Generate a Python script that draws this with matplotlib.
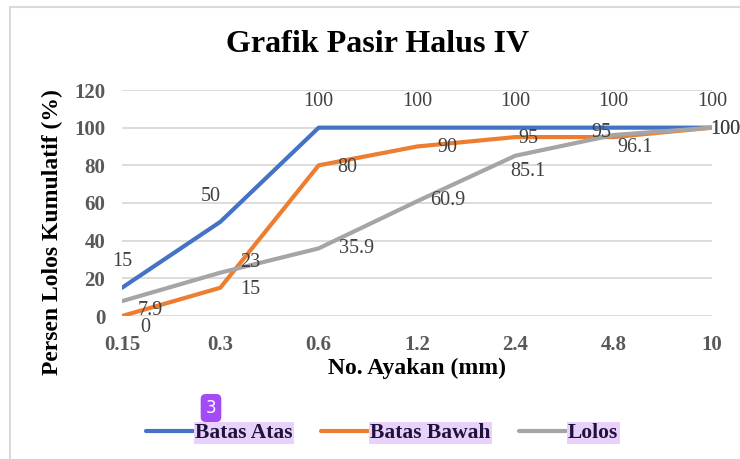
import matplotlib
matplotlib.use("Agg")
import matplotlib.pyplot as plt
from matplotlib.patches import Rectangle

# Data
ayakan = ["0.15", "0.3", "0.6", "1.2", "2.4", "4.8", "10"]
batas_atas = [15, 50, 100, 100, 100, 100, 100]
batas_bawah = [0, 15, 80, 90, 95, 95, 100]
lolos = [7.9, 23, 35.9, 60.9, 85.1, 96.1, 100]

# Label offsets in pixels (dx, dy), screen coords (dy up)
off_atas = [(0, 26), (-10, 25), (0, 26), (0, 26), (0, 26), (0, 26), (0, 26)]
off_bawah = [(23, -11), (30, -2), (29, -2), (30, -1), (13, -1), (-12, 5), (13, -2)]
off_lolos = [(28, -9), (30, 10), (38, 0), (31, 1), (13, -16), (21, -12), (13, -2)]

plt.rcParams['font.family'] = ['Liberation Serif', 'DejaVu Serif']

fig = plt.figure(figsize=(7.4, 4.59), dpi=100)
ax = fig.add_axes([122 / 740, 1 - 316 / 459, 590 / 740, 226 / 459])

x = list(range(len(ayakan)))
series = [
    ("Batas Atas", batas_atas, "#4472C4", off_atas),
    ("Batas Bawah", batas_bawah, "#ED7D31", off_bawah),
    ("Lolos", lolos, "#A5A5A5", off_lolos),
]
handles = []
for name, vals, col, offs in series:
    h, = ax.plot(x, vals, color=col, lw=3, solid_capstyle='round', label=name, zorder=3)
    handles.append(h)
    for xi, v, (dx, dy) in zip(x, vals, offs):
        lab = ("%g" % v)
        ax.annotate(lab, (xi, v), xytext=(dx * 0.72, dy * 0.72), textcoords='offset points',
                    ha='center', va='center', fontsize=14.5, color='#404040',
                    annotation_clip=False, zorder=4)

ax.set_xlim(0, 6)
ax.set_ylim(0, 120)
ax.set_yticks(range(0, 121, 20))
ax.set_xticks(x)
ax.set_xticklabels(ayakan)
ax.grid(axis='y', color='#d9d9d9', lw=1.3)
ax.set_axisbelow(True)
for s in ax.spines.values():
    s.set_visible(False)
ax.tick_params(length=0, labelsize=15, colors='#595959', pad=12)
for t in ax.get_xticklabels() + ax.get_yticklabels():
    t.set_fontweight('bold')
ax.tick_params(axis='x', pad=14)

ax.set_xlabel("No. Ayakan (mm)", fontsize=17, fontweight='bold', va='center')
ax.set_ylabel("Persen Lolos Kumulatif (%)", fontsize=17, fontweight='bold', va='center')
ax.xaxis.set_label_coords((417 - 122) / 590, -(368 - 316) / 226)
ax.yaxis.set_label_coords(-(122 - 52) / 590, (316 - 232) / 226)

fig.text(0.51, 1 - 45 / 459, "Grafik Pasir Halus IV", ha='center', va='center',
         fontsize=23, fontweight='bold')

# chart border
fig.add_artist(Rectangle((10 / 740, -0.1), 1.2, 1 - 7 / 459 + 0.1, transform=fig.transFigure,
                         fill=False, edgecolor='#d9d9d9', lw=1.5))

leg = fig.legend(handles=handles, loc='center', bbox_to_anchor=(382 / 740, 1 - 433 / 459),
                 ncol=3, frameon=False, handlelength=2.2, handletextpad=0.1,
                 columnspacing=1.3, prop={'weight': 'bold', 'size': 15.5})
for t in leg.get_texts():
    t.set_color('#20123a')
    t.set_bbox(dict(facecolor='#e8d2fb', edgecolor='none', pad=1))

fig.text(211 / 740, 1 - 408 / 459, "3", ha='center', va='center', fontsize=12,
         family='DejaVu Sans', color='white',
         bbox=dict(boxstyle='round,pad=0.3', facecolor='#a34cf6', edgecolor='none'))

fig.savefig("out.png", dpi=100)
